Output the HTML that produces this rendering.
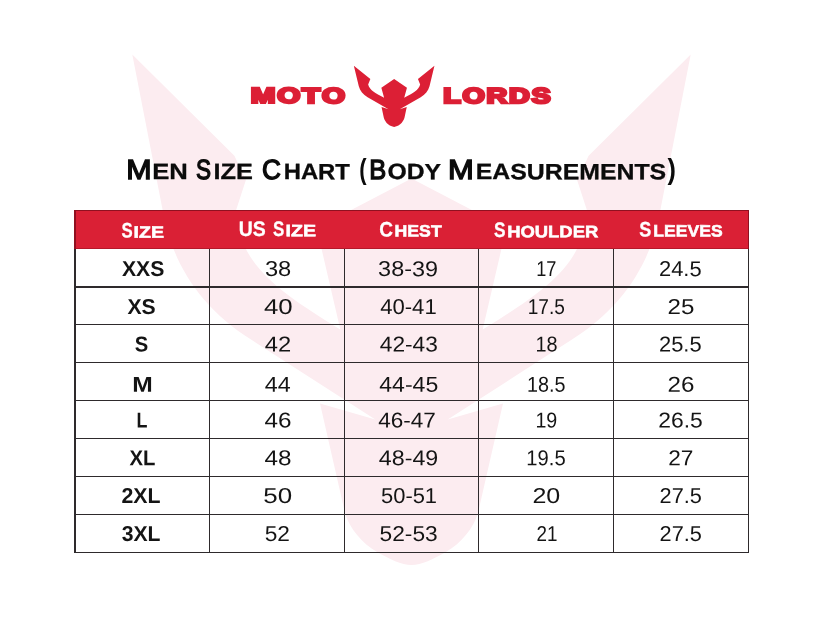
<!DOCTYPE html>
<html lang="en"><head><meta charset="utf-8"><title>Men Size Chart (Body Measurements)</title>
<style>
html,body{margin:0;padding:0;background:#fff;}
body{width:823px;height:618px;position:relative;overflow:hidden;font-family:"Liberation Sans",sans-serif;}
.t{position:absolute;left:0;top:0;white-space:nowrap;font-kerning:none;text-rendering:geometricPrecision;font-size:20px;line-height:0;height:0;transform-origin:0 0;}
.ln{position:absolute;background:#2e2a2c;}
svg{position:absolute;left:0;top:0;}
#page,#bg,#grid,#txt{position:absolute;left:0;top:0;width:823px;height:618px;}
#bg,#txt{filter:blur(0.4px);}
#grid{filter:blur(0.5px);}
#hdr{position:absolute;left:74.4px;top:210.3px;width:674.3px;height:38.8px;background:#da2035;}
</style></head><body>
<div id="page">

<div id="bg">
<svg width="823" height="618" viewBox="0 0 823 618"><path transform="translate(411.5,0)" d="M0,178.5 L94.8,228.1 L71.2,329.5 C128,294 174,266 175.3,209.8 L165.6,180 L177.1,155.8 L279.2,54.6 L247.9,215 C238.2,265 210.1,308.3 160.1,339.8 L36.2,419.5 L91.5,403.4 L66.5,512.9 C62,528 50,543 34,552.2 C22,559 10,565 0,565 C-10,565 -22,559 -34,552.2 C-50,543 -62,528 -66.5,512.9 L-91.5,403.4 L-36.2,419.5 L-160.1,339.8 C-210.1,308.3 -238.2,265 -247.9,215 L-279.2,54.6 L-177.1,155.8 L-165.6,180 L-175.3,209.8 C-174,266 -128,294 -71.2,329.5 L-94.8,228.1 L0,178.5 Z" fill="#fcecf0"/><path transform="translate(394.15,0)" d="M0,79.0 L12.8,87.85 L10.05,97.75 C19,93.3 24.5,90 26.0,84.55 L23.8,79.05 L40.3,65.85 L35.35,86.2 C34.2,91 31,94.5 26.55,97.2 L5.65,109.3 L12.6,107.1 L10.7,115.9 C9.8,121 6.5,125.5 0,126.9 C-6.5,125.5 -9.8,121 -10.7,115.9 L-12.6,107.1 L-5.65,109.3 L-26.55,97.2 C-31,94.5 -34.2,91 -35.35,86.2 L-40.3,65.85 L-23.8,79.05 L-26.0,84.55 C-24.5,90 -19,93.3 -10.05,97.75 L-12.8,87.85 L0,79.0 Z" fill="#dc1f35"/></svg>
<div id="hdr"></div>
</div>
<div id="grid">
<div class="ln" style="left:74.45px;top:249.10px;width:1.1px;height:303.75px"></div>
<div class="ln" style="left:208.85px;top:249.10px;width:1.1px;height:303.75px"></div>
<div class="ln" style="left:343.65px;top:249.10px;width:1.1px;height:303.75px"></div>
<div class="ln" style="left:478.35px;top:249.10px;width:1.1px;height:303.75px"></div>
<div class="ln" style="left:612.75px;top:249.10px;width:1.1px;height:303.75px"></div>
<div class="ln" style="left:747.55px;top:249.10px;width:1.1px;height:303.75px"></div>
<div class="ln" style="left:74.45px;top:210.3px;width:1.1px;height:38.8px;background:rgba(70,0,12,.5)"></div>
<div class="ln" style="left:747.55px;top:210.3px;width:1.1px;height:38.8px;background:rgba(70,0,12,.5)"></div>
<div class="ln" style="left:75.55px;top:210.3px;width:672.00px;height:0.8px;background:rgba(70,0,12,.5)"></div>
<div class="ln" style="left:75.55px;top:248.3px;width:672.00px;height:0.8px;background:rgba(70,0,12,.25)"></div>
<div class="ln" style="left:75.55px;top:286.45px;width:672.00px;height:1.1px"></div>
<div class="ln" style="left:75.55px;top:324.35px;width:672.00px;height:1.1px"></div>
<div class="ln" style="left:75.55px;top:362.25px;width:672.00px;height:1.1px"></div>
<div class="ln" style="left:75.55px;top:400.35px;width:672.00px;height:1.1px"></div>
<div class="ln" style="left:75.55px;top:437.95px;width:672.00px;height:1.1px"></div>
<div class="ln" style="left:75.55px;top:476.25px;width:672.00px;height:1.1px"></div>
<div class="ln" style="left:75.55px;top:513.95px;width:672.00px;height:1.1px"></div>
<div class="ln" style="left:75.55px;top:551.75px;width:672.00px;height:1.1px"></div>
</div>
<div id="txt">
<div class="t" style="font-weight:bold;color:#dc1f35;-webkit-text-stroke:2.441px #dc1f35;letter-spacing:1.221px;transform:translate(250.83px,96.46px) rotate(.05deg) scale(1.4801,1.0650)">MOTO</div>
<div class="t" style="font-weight:bold;color:#dc1f35;-webkit-text-stroke:2.441px #dc1f35;letter-spacing:1.221px;transform:translate(443.23px,96.51px) rotate(.05deg) scale(1.4334,1.0650)">LORDS</div>
<div class="t" style="color:#0b0b0b;-webkit-text-stroke:0.975px #0b0b0b;transform:translate(126.14px,170.69px) rotate(.05deg) scale(1.5223,1.3850)">M</div>
<div class="t" style="font-weight:bold;color:#0b0b0b;-webkit-text-stroke:0.271px #0b0b0b;transform:translate(152.16px,172.47px) rotate(.05deg) scale(1.2811,1.1050)">EN</div>
<div class="t" style="color:#0b0b0b;-webkit-text-stroke:0.975px #0b0b0b;transform:translate(196.08px,170.69px) rotate(.05deg) scale(1.1250,1.3850)">S</div>
<div class="t" style="font-weight:bold;color:#0b0b0b;-webkit-text-stroke:0.271px #0b0b0b;transform:translate(213.58px,172.47px) rotate(.05deg) scale(1.2643,1.1050)">IZE</div>
<div class="t" style="color:#0b0b0b;-webkit-text-stroke:0.975px #0b0b0b;transform:translate(261.96px,170.69px) rotate(.05deg) scale(1.3086,1.3850)">C</div>
<div class="t" style="font-weight:bold;color:#0b0b0b;-webkit-text-stroke:0.271px #0b0b0b;transform:translate(283.67px,172.47px) rotate(.05deg) scale(1.1923,1.1050)">HART</div>
<div class="t" style="font-weight:bold;color:#0b0b0b;transform:translate(359.21px,170.40px) rotate(.05deg) scale(1.0984,1.4500)">(</div>
<div class="t" style="color:#0b0b0b;-webkit-text-stroke:0.975px #0b0b0b;transform:translate(369.33px,170.69px) rotate(.05deg) scale(1.2737,1.3850)">B</div>
<div class="t" style="font-weight:bold;color:#0b0b0b;-webkit-text-stroke:0.271px #0b0b0b;transform:translate(387.45px,172.47px) rotate(.05deg) scale(1.2362,1.1050)">ODY</div>
<div class="t" style="color:#0b0b0b;-webkit-text-stroke:0.975px #0b0b0b;transform:translate(448.12px,170.69px) rotate(.05deg) scale(1.5466,1.3850)">M</div>
<div class="t" style="font-weight:bold;color:#0b0b0b;-webkit-text-stroke:0.271px #0b0b0b;transform:translate(475.71px,172.47px) rotate(.05deg) scale(1.2422,1.1050)">EASUREMENTS</div>
<div class="t" style="font-weight:bold;color:#0b0b0b;transform:translate(667.48px,170.40px) rotate(.05deg) scale(1.2579,1.4500)">)</div>
<div class="t" style="font-weight:bold;color:#fff;-webkit-text-stroke:0.286px #fff;transform:translate(121.44px,231.30px) rotate(.05deg) scale(0.8396,1.0500)">S</div>
<div class="t" style="font-weight:bold;color:#fff;-webkit-text-stroke:0.667px #fff;transform:translate(133.52px,232.75px) rotate(.05deg) scale(0.9777,0.8250)">IZE</div>
<div class="t" style="font-weight:bold;color:#fff;-webkit-text-stroke:0.286px #fff;transform:translate(238.67px,229.80px) rotate(.05deg) scale(0.9737,1.0500)">US</div>
<div class="t" style="font-weight:bold;color:#fff;-webkit-text-stroke:0.286px #fff;transform:translate(273.03px,229.80px) rotate(.05deg) scale(0.8477,1.0500)">S</div>
<div class="t" style="font-weight:bold;color:#fff;-webkit-text-stroke:0.667px #fff;transform:translate(285.51px,231.25px) rotate(.05deg) scale(0.9811,0.8250)">IZE</div>
<div class="t" style="font-weight:bold;color:#fff;-webkit-text-stroke:0.286px #fff;transform:translate(379.16px,230.20px) rotate(.05deg) scale(0.9505,1.0500)">C</div>
<div class="t" style="font-weight:bold;color:#fff;-webkit-text-stroke:0.667px #fff;transform:translate(394.51px,231.65px) rotate(.05deg) scale(0.8846,0.8250)">HEST</div>
<div class="t" style="font-weight:bold;color:#fff;-webkit-text-stroke:0.286px #fff;transform:translate(494.03px,230.80px) rotate(.05deg) scale(0.8640,1.0500)">S</div>
<div class="t" style="font-weight:bold;color:#fff;-webkit-text-stroke:0.667px #fff;transform:translate(507.17px,232.25px) rotate(.05deg) scale(0.9212,0.8250)">HOULDER</div>
<div class="t" style="font-weight:bold;color:#fff;-webkit-text-stroke:0.286px #fff;transform:translate(639.31px,230.10px) rotate(.05deg) scale(0.9048,1.0500)">S</div>
<div class="t" style="font-weight:bold;color:#fff;-webkit-text-stroke:0.667px #fff;transform:translate(653.32px,231.55px) rotate(.05deg) scale(0.8778,0.8250)">LEEVES</div>
<div class="t" style="font-weight:bold;color:#141414;transform:translate(121.91px,269.65px) rotate(.05deg) scale(1.0598,1.0750)">XXS</div>
<div class="t" style="color:#141414;transform:translate(264.90px,269.62px) rotate(.05deg) scale(1.1836,1.0800)">38</div>
<div class="t" style="color:#141414;transform:translate(378.11px,269.62px) rotate(.05deg) scale(1.1710,1.0800)">38-39</div>
<div class="t" style="color:#141414;transform:translate(536.22px,269.62px) rotate(.05deg) scale(0.9079,1.0800)">17</div>
<div class="t" style="color:#141414;transform:translate(659.00px,269.62px) rotate(.05deg) scale(1.0949,1.0800)">24.5</div>
<div class="t" style="font-weight:bold;color:#141414;transform:translate(127.51px,307.55px) rotate(.05deg) scale(1.0574,1.0750)">XS</div>
<div class="t" style="color:#141414;transform:translate(264.01px,307.52px) rotate(.05deg) scale(1.2901,1.0800)">40</div>
<div class="t" style="color:#141414;transform:translate(380.19px,307.52px) rotate(.05deg) scale(1.1043,1.0800)">40-41</div>
<div class="t" style="color:#141414;transform:translate(527.75px,307.52px) rotate(.05deg) scale(0.9545,1.0800)">17.5</div>
<div class="t" style="color:#141414;transform:translate(667.49px,307.52px) rotate(.05deg) scale(1.2059,1.0800)">25</div>
<div class="t" style="font-weight:bold;color:#141414;transform:translate(134.72px,344.95px) rotate(.05deg) scale(1.0098,1.0750)">S</div>
<div class="t" style="color:#141414;transform:translate(264.75px,344.92px) rotate(.05deg) scale(1.1886,1.0800)">42</div>
<div class="t" style="color:#141414;transform:translate(379.78px,344.92px) rotate(.05deg) scale(1.1362,1.0800)">42-43</div>
<div class="t" style="color:#141414;transform:translate(535.59px,344.92px) rotate(.05deg) scale(0.9923,1.0800)">18</div>
<div class="t" style="color:#141414;transform:translate(659.00px,344.92px) rotate(.05deg) scale(1.0949,1.0800)">25.5</div>
<div class="t" style="font-weight:bold;color:#141414;transform:translate(132.15px,385.35px) rotate(.05deg) scale(1.2299,1.0750)">M</div>
<div class="t" style="color:#141414;transform:translate(264.77px,385.32px) rotate(.05deg) scale(1.1650,1.0800)">44</div>
<div class="t" style="color:#141414;transform:translate(379.27px,385.32px) rotate(.05deg) scale(1.1534,1.0800)">44-45</div>
<div class="t" style="color:#141414;transform:translate(527.00px,385.32px) rotate(.05deg) scale(0.9874,1.0800)">18.5</div>
<div class="t" style="color:#141414;transform:translate(667.48px,385.32px) rotate(.05deg) scale(1.2082,1.0800)">26</div>
<div class="t" style="font-weight:bold;color:#141414;transform:translate(136.40px,420.95px) rotate(.05deg) scale(0.8964,1.0750)">L</div>
<div class="t" style="color:#141414;transform:translate(264.54px,420.92px) rotate(.05deg) scale(1.2148,1.0800)">46</div>
<div class="t" style="color:#141414;transform:translate(378.18px,420.92px) rotate(.05deg) scale(1.1270,1.0800)">46-47</div>
<div class="t" style="color:#141414;transform:translate(535.41px,420.92px) rotate(.05deg) scale(0.9810,1.0800)">19</div>
<div class="t" style="color:#141414;transform:translate(658.25px,420.92px) rotate(.05deg) scale(1.1435,1.0800)">26.5</div>
<div class="t" style="font-weight:bold;color:#141414;transform:translate(129.52px,458.85px) rotate(.05deg) scale(1.0135,1.0750)">XL</div>
<div class="t" style="color:#141414;transform:translate(264.54px,458.82px) rotate(.05deg) scale(1.2143,1.0800)">48</div>
<div class="t" style="color:#141414;transform:translate(378.87px,458.82px) rotate(.05deg) scale(1.1619,1.0800)">48-49</div>
<div class="t" style="color:#141414;transform:translate(526.36px,458.82px) rotate(.05deg) scale(1.0092,1.0800)">19.5</div>
<div class="t" style="color:#141414;transform:translate(668.26px,458.82px) rotate(.05deg) scale(1.1317,1.0800)">27</div>
<div class="t" style="font-weight:bold;color:#141414;transform:translate(121.46px,496.55px) rotate(.05deg) scale(1.0658,1.0750)">2XL</div>
<div class="t" style="color:#141414;transform:translate(263.36px,496.52px) rotate(.05deg) scale(1.2969,1.0800)">50</div>
<div class="t" style="color:#141414;transform:translate(381.02px,496.52px) rotate(.05deg) scale(1.0957,1.0800)">50-51</div>
<div class="t" style="color:#141414;transform:translate(532.44px,496.52px) rotate(.05deg) scale(1.2513,1.0800)">20</div>
<div class="t" style="color:#141414;transform:translate(659.61px,496.52px) rotate(.05deg) scale(1.0868,1.0800)">27.5</div>
<div class="t" style="font-weight:bold;color:#141414;transform:translate(121.71px,534.55px) rotate(.05deg) scale(1.0588,1.0750)">3XL</div>
<div class="t" style="color:#141414;transform:translate(264.69px,534.52px) rotate(.05deg) scale(1.1351,1.0800)">52</div>
<div class="t" style="color:#141414;transform:translate(379.49px,534.52px) rotate(.05deg) scale(1.1380,1.0800)">52-53</div>
<div class="t" style="color:#141414;transform:translate(536.45px,534.52px) rotate(.05deg) scale(0.9426,1.0800)">21</div>
<div class="t" style="color:#141414;transform:translate(659.61px,534.52px) rotate(.05deg) scale(1.0868,1.0800)">27.5</div>
</div>
</div>
</body></html>
